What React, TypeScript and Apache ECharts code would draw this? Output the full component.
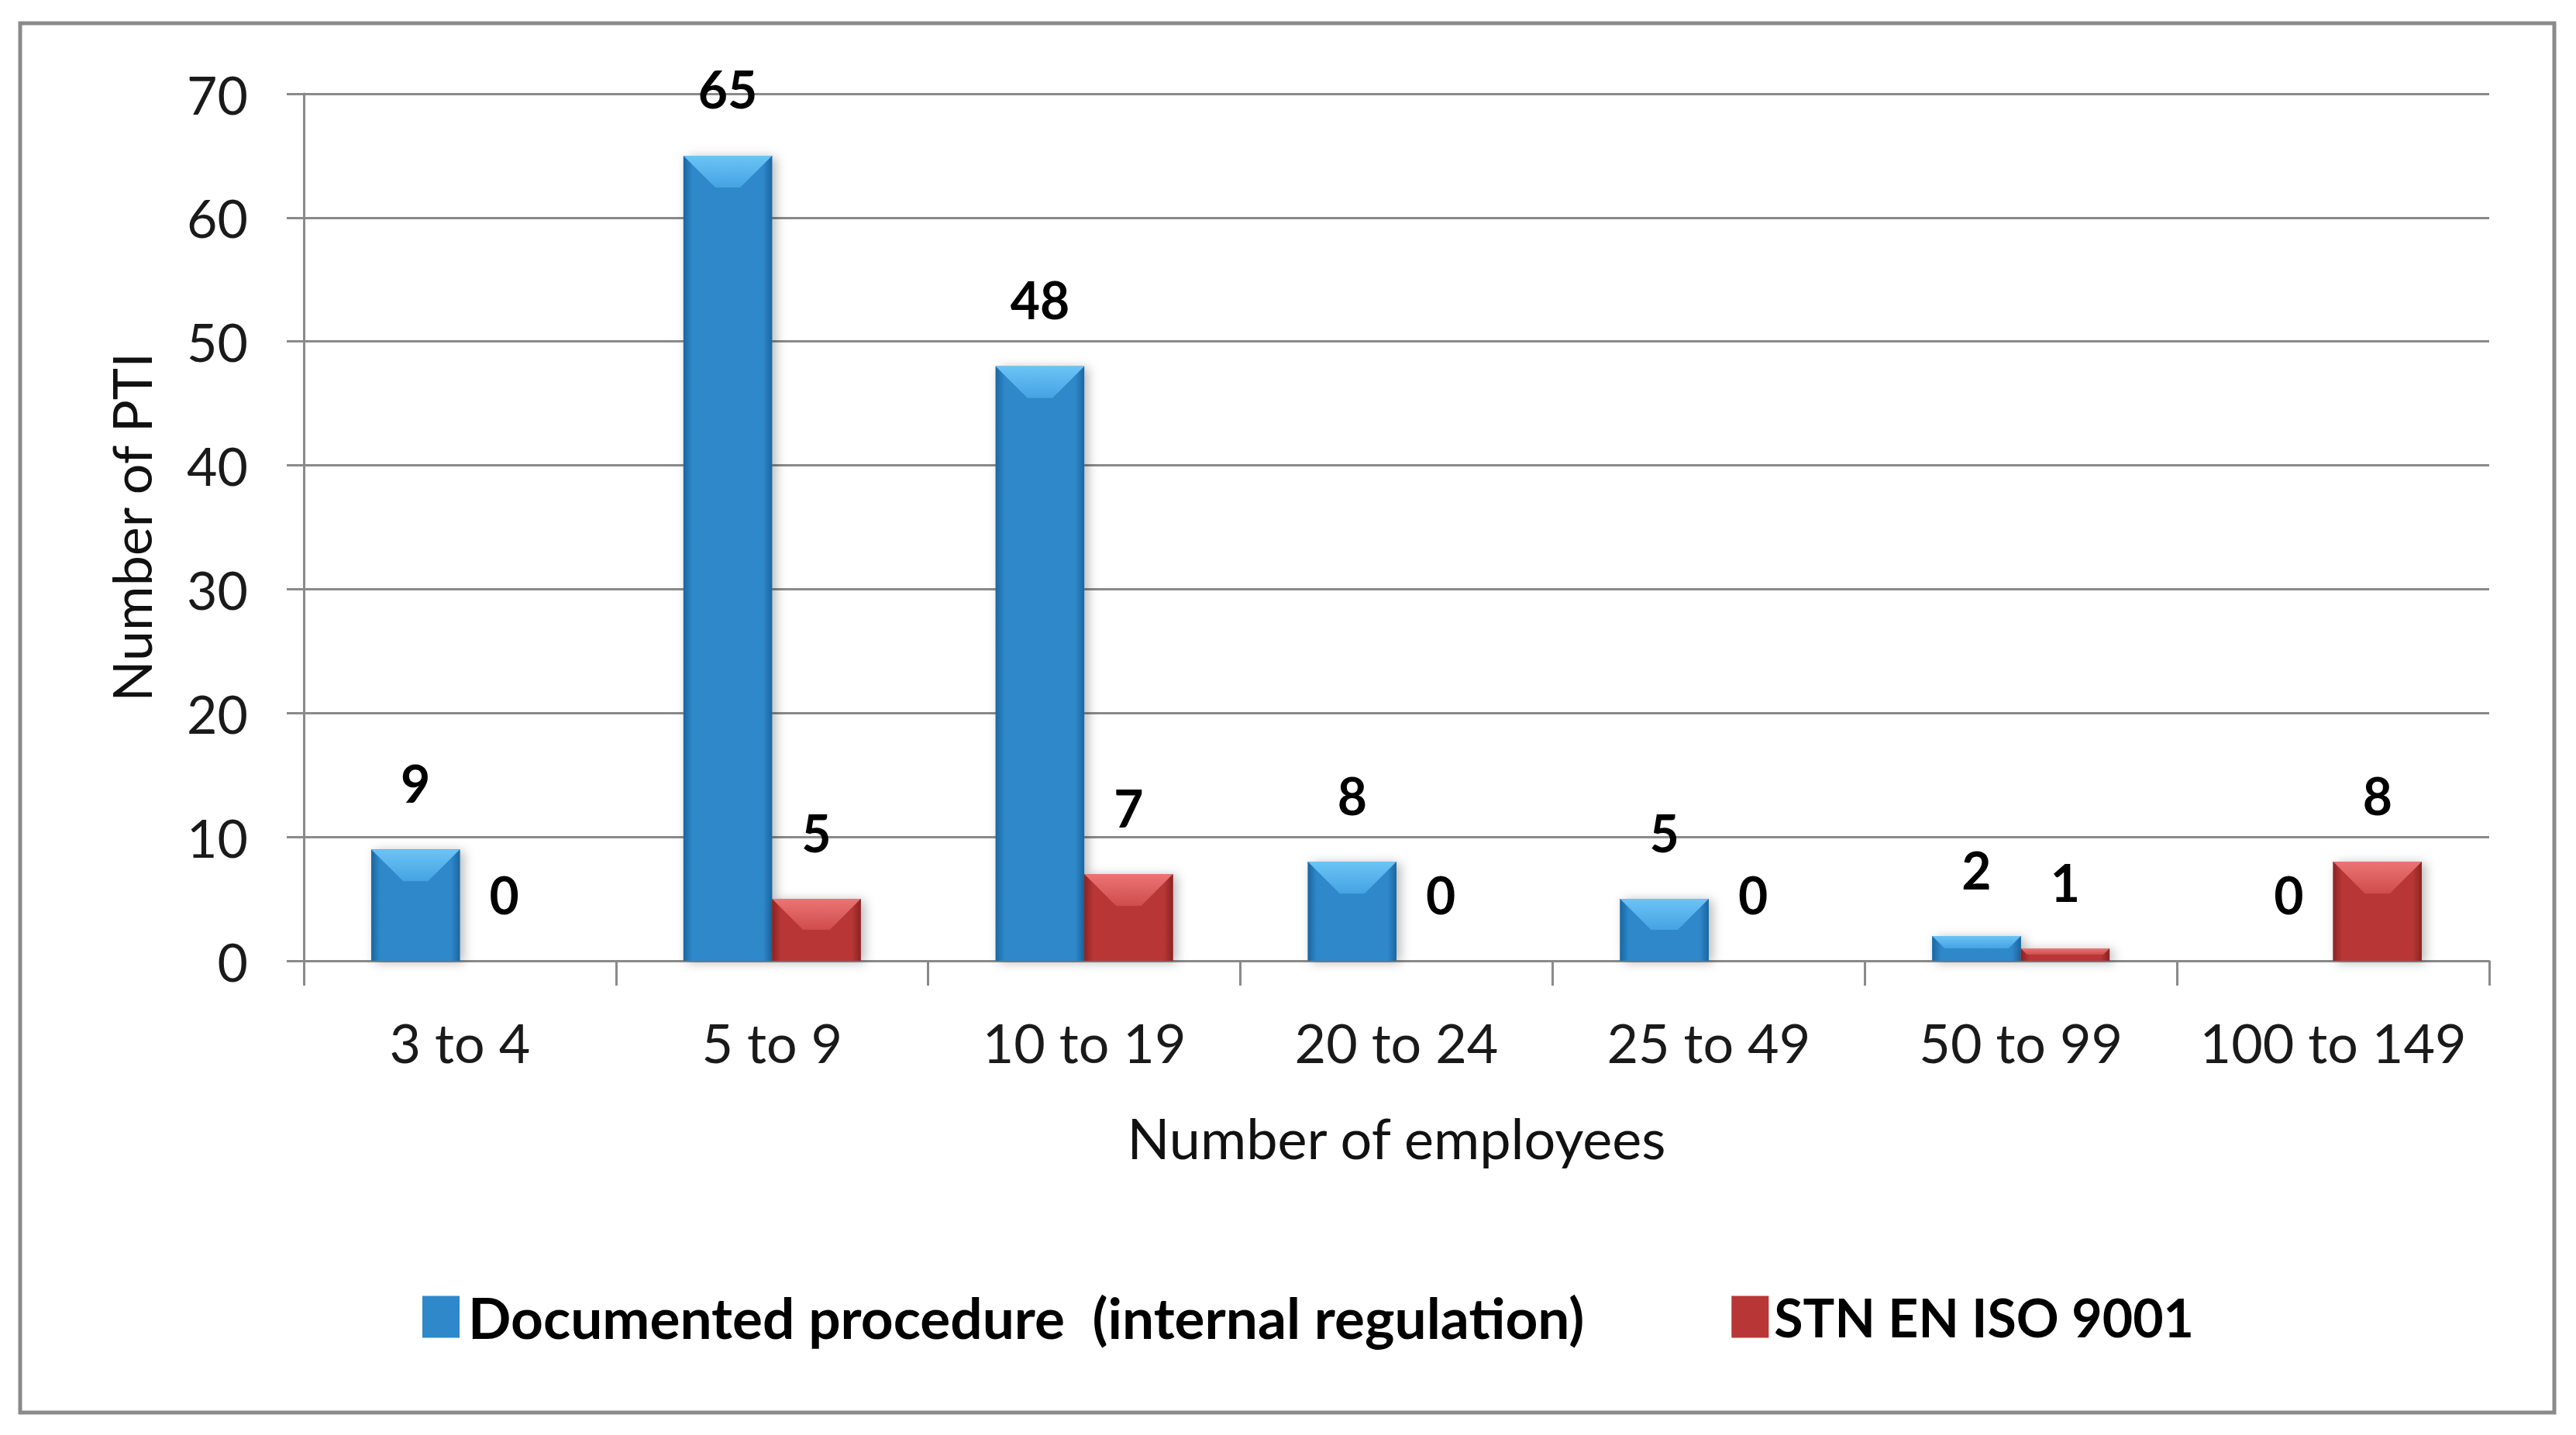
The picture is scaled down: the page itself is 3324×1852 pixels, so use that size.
import React, { useEffect, useRef } from "react";
import * as echarts from "echarts";

const categories = ["3 to 4", "5 to 9", "10 to 19", "20 to 24", "25 to 49", "50 to 99", "100 to 149"];
const documentedProcedure = [9, 65, 48, 8, 5, 2, 0];
const stnEnIso9001 = [0, 5, 7, 0, 0, 1, 8];
const seriesNames = ["Documented procedure  (internal regulation)", "STN EN ISO 9001"];
const yMin = 0;
const yMax = 70;
const yInterval = 10;

const FONT = "Lato, 'Noto Sans', sans-serif";

const palettes = [
  { main: "#2e88ca", edge: "#1a66a0", top: "#6cc4f6", topDark: "#45a3e3" },
  { main: "#b83636", edge: "#8a2323", top: "#ec7474", topDark: "#cf4c4c" },
];

function makeRenderItem(seriesIdx: number) {
  return (params: any, api: any) => {
    const cat = api.value(0);
    const val = api.value(1);
    const base = api.coord([cat, 0]);
    const top = api.coord([cat, val]);
    const band = api.size([1, 0])[0];
    const w = band * 0.284;
    const x0 = base[0] + (seriesIdx === 0 ? -w : 0);
    const yTop = top[1];
    const h = base[1] - yTop;
    const p = palettes[seriesIdx];
    const children: any[] = [];
    if (h > 0) {
      const b = Math.min(w * 0.36, h / 2);
      children.push({
        type: "rect",
        shape: { x: x0, y: yTop, width: w, height: h },
        style: {
          fill: p.main,
          shadowBlur: 14,
          shadowColor: "rgba(0,0,0,0.28)",
          shadowOffsetX: 5,
          shadowOffsetY: 2,
        },
      });
      children.push({
        type: "rect",
        shape: { x: x0, y: yTop, width: w, height: h },
        style: {
          fill: new echarts.graphic.LinearGradient(0, 0, 1, 0, [
            { offset: 0, color: p.edge },
            { offset: 0.1, color: p.main },
            { offset: 0.9, color: p.main },
            { offset: 1, color: p.edge },
          ]),
        },
      });
      children.push({
        type: "polygon",
        shape: {
          points: [
            [x0, yTop],
            [x0 + w, yTop],
            [x0 + w - b, yTop + b],
            [x0 + b, yTop + b],
          ],
        },
        style: {
          fill: new echarts.graphic.LinearGradient(0, 0, 0, 1, [
            { offset: 0, color: p.top },
            { offset: 1, color: p.topDark },
          ]),
        },
      });
    }
    children.push({
      type: "text",
      x: x0 + w / 2,
      y: yTop - 86,
      style: {
        text: String(val),
        textAlign: "center",
        textVerticalAlign: "middle",
        font: `bold 66px ${FONT}`,
        fill: "#000",
      },
    });
    return { type: "group", children };
  };
}

export default function App() {
  const ref = useRef<HTMLDivElement>(null);
  useEffect(() => {
    document.body.style.margin = "0";
    document.body.style.overflow = "hidden";
    if (!ref.current) return;
    const chart = echarts.init(ref.current, null, { renderer: "svg" });
    const seriesData = [documentedProcedure, stnEnIso9001];
    chart.setOption({
      animation: false,
      backgroundColor: "#ffffff",
      textStyle: { fontFamily: FONT },
      grid: { left: 392, right: 112, top: 121, bottom: 612, containLabel: false },
      graphic: [
        {
          type: "rect",
          shape: { x: 26, y: 30, width: 3270, height: 1793 },
          style: { fill: "none", stroke: "#8a8a8a", lineWidth: 5 },
          silent: true,
        },
      ],
      legend: {
        left: 540,
        top: 1658,
        itemWidth: 48,
        itemHeight: 54,
        itemGap: 190,
        icon: "rect",
        textStyle: {
          fontFamily: FONT,
          fontSize: 73,
          fontWeight: "bold",
          color: "#000",
          padding: [0, 0, 0, 6],
        },
        data: [
          { name: seriesNames[0] },
          { name: seriesNames[1], textStyle: { fontSize: 68, fontWeight: "bold", fontFamily: FONT, color: "#000", padding: [0, 0, 0, 2] } },
        ],
      },
      xAxis: {
        type: "category",
        data: categories,
        name: "Number of employees",
        nameLocation: "middle",
        nameGap: 192,
        nameTextStyle: { fontFamily: FONT, fontSize: 72, color: "#111" },
        axisLine: { show: true, lineStyle: { color: "#8a8a8a", width: 3 } },
        axisTick: { show: true, length: 32, lineStyle: { color: "#8a8a8a", width: 3 } },
        axisLabel: { interval: 0, fontFamily: FONT, fontSize: 70, color: "#1a1a1a", margin: 70 },
      },
      yAxis: {
        type: "value",
        min: yMin,
        max: yMax,
        interval: yInterval,
        name: "Number of PTI",
        nameLocation: "middle",
        nameRotate: 90,
        nameGap: 188,
        nameTextStyle: { fontFamily: FONT, fontSize: 70, color: "#111" },
        axisLine: { show: true, lineStyle: { color: "#8a8a8a", width: 3 } },
        axisTick: { show: true, length: 22, lineStyle: { color: "#8a8a8a", width: 3 } },
        axisLabel: { fontFamily: FONT, fontSize: 68, color: "#1a1a1a", margin: 72 },
        splitLine: { show: true, lineStyle: { color: "#8a8a8a", width: 3 } },
      },
      series: seriesData.map((arr, si) => ({
        type: "custom",
        name: seriesNames[si],
        renderItem: makeRenderItem(si),
        encode: { x: 0, y: 1 },
        clip: false,
        itemStyle: { color: palettes[si].main },
        data: arr.map((v, i) => [i, v]),
      })),
    });
    return () => chart.dispose();
  }, []);
  return <div ref={ref} style={{ width: 3324, height: 1852 }} />;
}
